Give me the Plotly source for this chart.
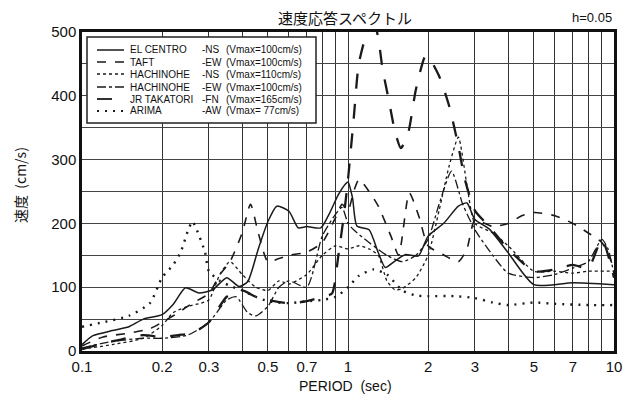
import plotly.graph_objects as go

# ---------------- data ----------------
el_t = [0.1,0.11,0.13,0.15,0.17,0.2,0.22,0.245,0.275,0.31,0.35,0.39,0.42,0.46,0.5,0.54,0.6,0.65,0.7,0.79,0.85,0.92,0.98,1.0,1.04,1.08,1.2,1.3,1.38,1.5,1.64,1.84,2.0,2.3,2.6,2.8,3.0,3.4,4.0,5.0,7.0,10]
el_v = [10,24,32,38,50,57,73,99,91,96,115,101,109,160,203,227,219,193,195,193,215,245,262,265,240,196,190,154,131,141,151,149,180,201,227,232,206,191,154,104,107,104]

taft_t = [0.1,0.12,0.15,0.18,0.2,0.23,0.26,0.3,0.33,0.36,0.4,0.43,0.46,0.5,0.55,0.6,0.7,0.8,0.9,0.95,1.0,1.05,1.1,1.2,1.3,1.45,1.55,1.7,1.85,2.0,2.3,2.6,2.8,3.0,3.5,4.0,4.5,5.0,6.0,7.0,8.0,9.0,10]
taft_v = [8,22,28,35,45,60,75,90,120,140,185,230,185,140,145,150,155,170,210,230,220,250,269,250,227,180,150,248,210,165,150,140,160,205,195,200,212,217,212,200,185,170,130]

hns_t = [0.1,0.13,0.17,0.2,0.22,0.25,0.28,0.3,0.33,0.36,0.4,0.45,0.5,0.55,0.6,0.7,0.8,0.9,1.0,1.1,1.2,1.3,1.4,1.5,1.6,1.8,2.0,2.2,2.4,2.6,2.8,3.0,3.5,4.0,5.0,6.0,7.0,8.0,10]
hns_v = [3,10,20,40,60,70,75,80,120,140,120,100,95,110,105,120,150,165,160,165,160,150,110,96,98,115,150,220,290,335,260,200,185,165,125,125,122,125,125]

hew_t = [0.1,0.13,0.17,0.2,0.25,0.3,0.35,0.38,0.42,0.45,0.5,0.55,0.6,0.7,0.8,0.9,0.95,1.0,1.05,1.2,1.4,1.6,1.8,2.0,2.2,2.45,2.7,3.0,3.5,4.0,5.0,6.0,7.0,8.0,9.0,9.5,10]
hew_v = [5,15,20,20,25,45,80,85,60,55,70,100,110,100,180,215,225,200,190,170,150,140,150,175,230,282,230,190,150,122,115,120,130,140,175,160,120]

jr_t = [0.1,0.12,0.14,0.17,0.2,0.23,0.26,0.3,0.35,0.4,0.45,0.5,0.6,0.7,0.8,0.87,0.92,0.97,1.0,1.05,1.1,1.2,1.27,1.35,1.43,1.5,1.58,1.68,1.8,1.95,2.0,2.2,2.4,2.6,2.75,3.0,3.4,4.0,5.0,6.0,7.0,8.0,9.0,10]
jr_v = [3,12,18,25,22,25,28,45,85,95,85,80,75,78,85,90,150,220,269,363,452,505,505,441,389,345,318,340,410,462,462,431,384,321,269,220,195,160,125,128,135,130,175,115]

ar_t = [0.1,0.12,0.15,0.18,0.2,0.22,0.235,0.25,0.26,0.27,0.29,0.3,0.33,0.37,0.4,0.45,0.5,0.6,0.7,0.8,0.9,1.0,1.1,1.25,1.4,1.6,1.8,2.0,2.5,3.0,3.5,4.0,5.0,6.0,8.0,10]
ar_v = [38,45,55,75,115,135,155,188,203,190,155,125,110,100,95,85,78,75,78,80,85,100,118,128,120,95,87,86,86,83,76,72,76,74,72,72]

names = ["EL CENTRO", "TAFT", "HACHINOHE", "HACHINOHE", "JR TAKATORI", "ARIMA"]
comps = ["-NS", "-EW", "-NS", "-EW", "-FN", "-AW"]
vmax = ["(Vmax=100cm/s)", "(Vmax=100cm/s)", "(Vmax=110cm/s)", "(Vmax=100cm/s)", "(Vmax=165cm/s)", "(Vmax= 77cm/s)"]

x_tickvals = [0.1,0.2,0.3,0.4,0.5,0.6,0.7,0.8,0.9,1,2,3,4,5,6,7,8,9,10]
x_ticktext = ["0.1","0.2","0.3","","0.5","","0.7","","","1","2","3","","5","","7","","","10"]
y_tickvals = [0,50,100,150,200,250,300,350,400,450,500]
y_ticktext = ["0","","100","","200","","300","","400","","500"]

# ---------------- figure ----------------
OFF = 8                      # default body margin of the page
W, H = 638 - OFF, 403 - OFF
L, R, T, B = 82, 614, 32, 351   # plot area in window pixels

def px(x):
    return (x - L) / (R - L)

def py(y):
    return (B - y) / (B - T)

styles = [
    dict(dash="solid", width=1.5),
    dict(dash="dash", width=1.6),
    dict(dash="dot", width=1.3),
    dict(dash="dashdot", width=1.3),
    dict(dash="longdash", width=2.3),
    dict(dash="2px,6px", width=2.4),
]
col = "#1a1a1a"
series = [(el_t, el_v), (taft_t, taft_v), (hns_t, hns_v), (hew_t, hew_v), (jr_t, jr_v), (ar_t, ar_v)]

fig = go.Figure()
for (tt, vv), st, nm in zip(series, styles, names):
    fig.add_trace(go.Scatter(x=tt, y=vv, mode="lines", name=nm, showlegend=False,
                             line=dict(color=col, width=st["width"], dash=st["dash"],
                                       shape="spline", smoothing=0.6)))

tickfont = dict(family="Liberation Sans, Arial, sans-serif", size=15, color="#111")
fig.update_xaxes(type="log", range=[-1, 1], tickvals=x_tickvals, ticktext=x_ticktext,
                 showgrid=True, gridcolor="#333", gridwidth=1.3,
                 showline=True, linecolor="#111", linewidth=2.5, mirror=True,
                 ticks="", tickfont=tickfont, zeroline=False)
fig.update_yaxes(range=[0, 500], tickvals=y_tickvals, ticktext=y_ticktext,
                 showgrid=True, gridcolor="#444", gridwidth=1.1,
                 showline=True, linecolor="#111", linewidth=2.5, mirror=True,
                 ticks="", tickfont=tickfont, zeroline=False)

shapes = []
annotations = []
# legend box
shapes.append(dict(type="rect", xref="paper", yref="paper",
                   x0=px(87), x1=px(316), y0=py(123), y1=py(37),
                   line=dict(color="#222", width=1.5), fillcolor="white", layer="above"))
rows = [50, 62, 74, 87, 99, 111]
lfont = dict(family="Liberation Sans, Arial, sans-serif", size=10, color="#111")
for i, ry in enumerate(rows):
    st = styles[i]
    shapes.append(dict(type="line", xref="paper", yref="paper",
                       x0=px(97), x1=px(124), y0=py(ry), y1=py(ry), layer="above",
                       line=dict(color=col, width=min(st["width"], 1.8), dash=st["dash"])))
    annotations.append(dict(text=names[i], xref="paper", yref="paper", x=px(128), y=py(ry),
                            xanchor="left", yanchor="middle", showarrow=False, font=lfont))
    annotations.append(dict(text=comps[i], xref="paper", yref="paper", x=px(200), y=py(ry),
                            xanchor="left", yanchor="middle", showarrow=False, font=lfont))
    annotations.append(dict(text=vmax[i], xref="paper", yref="paper", x=px(224), y=py(ry),
                            xanchor="left", yanchor="middle", showarrow=False, font=lfont))

annotations.append(dict(text="速度応答スペクトル", xref="paper", yref="paper", x=px(345), y=py(18),
                        xanchor="center", yanchor="middle", showarrow=False,
                        font=dict(family="Noto Sans CJK JP", size=15, color="#111")))
annotations.append(dict(text="h=0.05", xref="paper", yref="paper", x=px(614), y=py(17),
                        xanchor="right", yanchor="middle", showarrow=False,
                        font=dict(family="Liberation Sans, Arial, sans-serif", size=13, color="#111")))
annotations.append(dict(text="PERIOD  (sec)", xref="paper", yref="paper", x=px(345), y=py(386),
                        xanchor="center", yanchor="middle", showarrow=False,
                        font=dict(family="Liberation Sans, Arial, sans-serif", size=14, color="#111")))
annotations.append(dict(text="速度  (cm/s)", xref="paper", yref="paper", x=px(20), y=py(185),
                        xanchor="center", yanchor="middle", showarrow=False, textangle=-90,
                        font=dict(family="Noto Sans CJK JP", size=14, color="#111")))

fig.update_layout(width=W, height=H,
                  margin=dict(l=L - OFF, r=(W + OFF) - R, t=T - OFF, b=(H + OFF) - B),
                  paper_bgcolor="white", plot_bgcolor="white",
                  shapes=shapes, annotations=annotations, showlegend=False)

fig.write_html("out.html")
